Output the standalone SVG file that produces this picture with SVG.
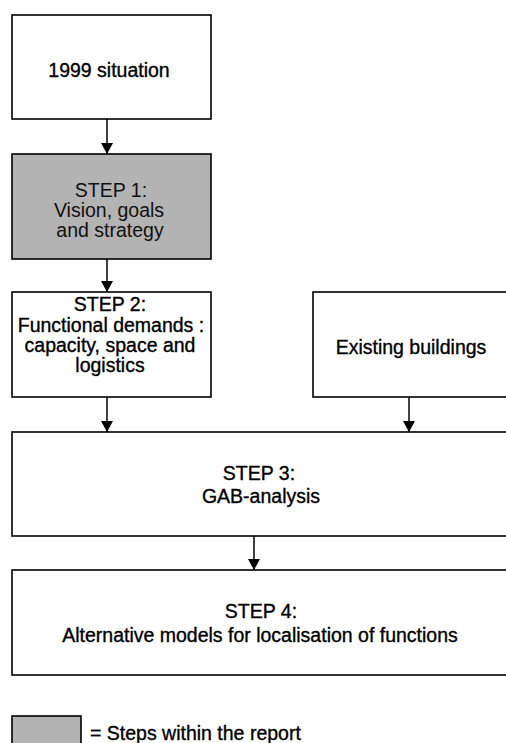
<svg xmlns="http://www.w3.org/2000/svg" width="506" height="743" viewBox="0 0 506 743">
<style>
.box{fill:#fff;stroke:#000;stroke-width:1.6}
.grey{fill:#b3b3b3;stroke:#000;stroke-width:1.6}
.t{font-family:"Liberation Sans",Arial,sans-serif;font-size:19.5px;fill:#000;stroke:#000;stroke-width:0.35;text-anchor:middle}
.r{font-family:"Liberation Sans",Arial,sans-serif;font-size:19.5px;fill:#111;text-anchor:middle}
.c{stroke:#000;stroke-width:1.5;fill:none;marker-end:url(#ah)}
</style>
<defs>
<marker id="ah" markerUnits="userSpaceOnUse" viewBox="0 0 11 12" markerWidth="11" markerHeight="12" refX="11" refY="6" orient="auto">
<path d="M0,0 L11,6 L0,12 z" fill="#000"/>
</marker>
</defs>
<rect width="506" height="743" fill="#fff"/>
<g id="connectors">
<line class="c" x1="107" y1="119" x2="107" y2="154"/>
<line class="c" x1="107" y1="259" x2="107" y2="292"/>
<line class="c" x1="107" y1="397" x2="107" y2="432"/>
<line class="c" x1="409" y1="397" x2="409" y2="432"/>
<line class="c" x1="254" y1="536" x2="254" y2="570"/>
</g>
<g id="n1999">
<rect class="box" x="12" y="15" width="199" height="104"/>
<text class="t" x="109" y="77">1999 situation</text>
</g>
<g id="step1">
<rect class="grey" x="12" y="154" width="199" height="105"/>
<text class="r" x="111" y="197">STEP 1:</text>
<text class="r" x="109" y="217">Vision, goals</text>
<text class="r" x="110" y="237">and strategy</text>
</g>
<g id="step2">
<rect class="box" x="12" y="292" width="199" height="105"/>
<text class="t" x="110" y="311">STEP 2:</text>
<text class="t" x="111" y="332">Functional demands :</text>
<text class="t" x="110" y="352">capacity, space and</text>
<text class="t" x="110" y="372">logistics</text>
</g>
<g id="existing">
<rect class="box" x="313" y="292" width="200" height="105"/>
<text class="t" x="411" y="354">Existing buildings</text>
</g>
<g id="step3">
<rect class="box" x="12" y="432" width="500" height="104"/>
<text class="t" x="259" y="480">STEP 3:</text>
<text class="t" x="261" y="503">GAB-analysis</text>
</g>
<g id="step4">
<rect class="box" x="12" y="570" width="500" height="105"/>
<text class="t" x="261" y="618">STEP 4:</text>
<text class="t" x="260" y="642">Alternative models for  localisation of functions</text>
</g>
<g id="legend">
<rect class="grey" x="12" y="716" width="69" height="40"/>
<text class="t" x="90" y="740" style="text-anchor:start">= Steps within the  report</text>
</g>
</svg>
